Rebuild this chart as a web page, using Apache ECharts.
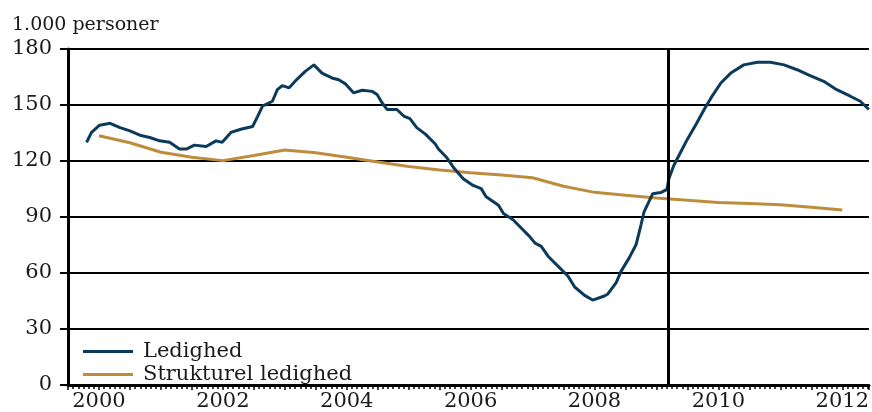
<!DOCTYPE html>
<html>
<head>
<meta charset="utf-8">
<script src="https://cdn.jsdelivr.net/npm/echarts@6/dist/echarts.min.js"></script>
<style>
html,body{margin:0;padding:0;background:#fff;}
#chart{width:872px;height:412px;}
</style>
</head>
<body>
<div id="chart"></div>
<script>
// ---- data ----
const yTicks = [0, 30, 60, 90, 120, 150, 180];
const yearLabels = [2000, 2002, 2004, 2006, 2008, 2010, 2012];
const seriesNames = ['Ledighed', 'Strukturel ledighed'];
const unitLabel = '1.000 personer';

const ledighedDates = [2000.30,2000.38,2000.51,2000.68,2000.84,2001.00,2001.16,2001.32,2001.48,2001.64,2001.80,2001.91,2002.04,2002.23,2002.39,2002.49,2002.63,2002.79,2002.98,2003.06,2003.14,2003.30,2003.38,2003.46,2003.57,2003.70,2003.83,2003.97,2004.10,2004.26,2004.37,2004.48,2004.61,2004.75,2004.91,2004.99,2005.07,2005.15,2005.31,2005.42,2005.52,2005.63,2005.77,2005.93,2005.98,2006.11,2006.22,2006.38,2006.54,2006.67,2006.75,2006.95,2007.03,2007.19,2007.32,2007.45,2007.54,2007.64,2007.75,2007.91,2008.07,2008.18,2008.34,2008.47,2008.66,2008.71,2008.85,2008.93,2009.06,2009.17,2009.25,2009.30,2009.44,2009.57,2009.67,2009.70,2009.78,2009.89,2010.00,2010.14,2010.27,2010.38,2010.54,2010.70,2010.91,2011.13,2011.34,2011.56,2011.77,2011.98,2012.20,2012.41,2012.63,2012.79,2012.93];
const ledighedValues = [130.0,135.3,139.2,140.2,137.9,136.1,133.8,132.6,130.8,130.0,126.4,126.4,128.5,127.8,130.8,130.0,135.3,137.0,138.5,143.8,149.4,152.0,158.2,160.4,159.2,163.9,168.0,171.5,167.1,164.5,163.5,161.3,156.5,157.9,157.3,155.6,151.2,147.6,147.6,144.1,142.7,137.9,134.4,129.1,126.4,122.0,116.7,110.5,106.9,105.2,100.8,96.3,91.9,88.4,84.0,79.6,76.0,74.3,69.0,63.7,58.4,52.5,48.0,45.5,47.7,48.6,54.8,61.0,68.1,75.1,85.7,92.8,102.5,103.1,104.8,110.5,117.6,124.7,131.7,139.7,147.6,153.8,161.8,167.1,171.5,172.9,172.9,171.5,168.9,165.7,162.7,158.2,154.7,152.0,147.6];

const strukturelDates = [2000.5,2001.0,2001.5,2002.0,2002.5,2003.0,2003.5,2004.0,2004.5,2005.0,2005.5,2006.0,2006.5,2007.0,2007.5,2008.0,2008.5,2009.0,2009.5,2010.0,2010.5,2011.0,2011.5,2012.0,2012.5];
const strukturelValues = [133.5,129.8,124.7,122.0,120.2,123.0,125.9,124.4,122.0,119.5,117.0,115.2,113.7,112.5,111.0,106.5,103.2,101.6,100.2,99.0,97.8,97.2,96.6,95.2,93.8];

const markerDate = 2009.69;   // vertical divider line
const xMin = 2000, xMax = 2012.93;

// ---- chart ----
const zip = (xs, ys) => xs.map((x, i) => [x, ys[i]]);
const font = 'DejaVu Serif';
const txt = '#1a1a1a';

const chart = echarts.init(document.getElementById('chart'), null, {renderer: 'canvas'});
chart.setOption({
  animation: false,
  backgroundColor: '#ffffff',
  title: {
    text: unitLabel, left: 12, top: 16, padding: 0,
    textStyle: {fontFamily: font, fontSize: 19, fontWeight: 'normal', color: txt}
  },
  grid: {left: 68, right: 0, top: 49, bottom: 24, containLabel: false},
  legend: {
    orient: 'vertical', left: 83, top: 341, padding: 0,
    icon: 'rect', itemWidth: 50, itemHeight: 3, itemGap: 2,
    data: seriesNames,
    textStyle: {fontFamily: font, fontSize: 21, color: txt, lineHeight: 20, padding: [0, 0, 0, 5]}
  },
  xAxis: {
    type: 'value', min: xMin, max: xMax, interval: 0.5,
    axisLine: {show: true, lineStyle: {color: '#000', width: 3}},
    axisTick: {show: true, length: 5, lineStyle: {color: '#000', width: 1.5}},
    minorTick: {show: true, splitNumber: 6, length: 4, lineStyle: {color: '#000', width: 1.5}},
    splitLine: {show: false},
    axisLabel: {
      margin: 6, fontFamily: font, fontSize: 21, color: txt,
      showMinLabel: false, showMaxLabel: false,
      formatter: v => {
        const y = Math.floor(v + 1e-6);
        return (Math.abs(v - y - 0.5) < 1e-6 && yearLabels.includes(y)) ? String(y) : '';
      }
    }
  },
  yAxis: {
    type: 'value', min: yTicks[0], max: yTicks[yTicks.length - 1], interval: 30,
    axisLine: {show: true, lineStyle: {color: '#000', width: 3}},
    axisTick: {show: true, length: 8, lineStyle: {color: '#000', width: 2}},
    splitLine: {show: true, lineStyle: {color: '#000', width: 2}},
    axisLabel: {margin: 16, fontFamily: font, fontSize: 21, color: txt}
  },
  series: [
    {
      name: seriesNames[0], type: 'line', symbol: 'none', z: 3,
      data: zip(ledighedDates, ledighedValues),
      lineStyle: {color: '#0c3a5b', width: 3},
      itemStyle: {color: '#0c3a5b'},
      markLine: {
        silent: true, symbol: ['none', 'none'], label: {show: false},
        lineStyle: {color: '#000', width: 3, type: 'solid'},
        data: [{xAxis: markerDate}]
      }
    },
    {
      name: seriesNames[1], type: 'line', symbol: 'none', z: 2,
      data: zip(strukturelDates, strukturelValues),
      lineStyle: {color: '#bd8d3d', width: 3},
      itemStyle: {color: '#bd8d3d'}
    }
  ]
});
</script>
</body>
</html>
